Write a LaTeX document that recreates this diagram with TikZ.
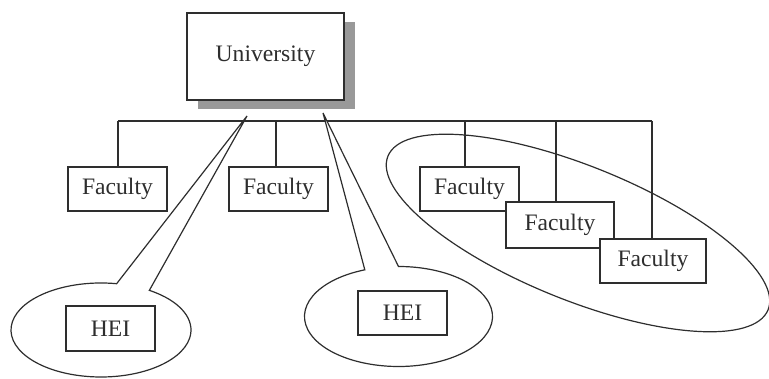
\documentclass[tikz,border=0pt]{standalone}
\usepackage{fontspec}
\setmainfont{Liberation Serif}
\usetikzlibrary{calc}
\begin{document}
\begin{tikzpicture}[x=1pt,y=1pt,
  ln/.style={draw=black!82,line width=1.2pt},
  boxnode/.style={ln,fill=white,inner sep=0pt,text=black!82,
    font=\fontsize{23.6}{28}\selectfont},
  shadowbox/.style={fill=black!40,draw=none}]
\useasboundingbox (0,0) rectangle (769,379);

% big tilted ellipse around the grouped faculties
\draw[ln,rotate around={-22:(578,146)}] (578,146) ellipse [x radius=205,y radius=67];

% University with shadow
\fill[shadowbox] (198,269.5) rectangle (355,356.5);
\node[boxnode,minimum width=157pt,minimum height=87pt] (uni) at (265.5,322.5) {University};

% bus line and drops
\coordinate (d1) at (118,258);
\coordinate (d2) at (276,258);
\coordinate (d3) at (465,258);
\coordinate (d4) at (556,258);
\coordinate (d5) at (652,258);

\node[boxnode,minimum width=99pt,minimum height=44pt] (f1) at (117.5,190) {Faculty};
\node[boxnode,minimum width=99pt,minimum height=44pt] (f2) at (278.5,190) {Faculty};
\node[boxnode,minimum width=99pt,minimum height=44pt] (f3) at (469.5,190) {Faculty};
\node[boxnode,minimum width=108pt,minimum height=46pt] (f4) at (560,154) {Faculty};
\node[boxnode,minimum width=106pt,minimum height=44pt] (f5) at (653,118) {Faculty};

\draw[ln] (d1) -- (d5);
\draw[ln] (d1) -- (d1 |- f1.north);
\draw[ln] (d2) -- (d2 |- f2.north);
\draw[ln] (d3) -- (d3 |- f3.north);
\draw[ln] (d4) -- (d4 |- f4.north);
\draw[ln] (d5) -- (d5 |- f5.north);

% HEI callout bubbles
\coordinate (tip1) at (247,263);
\coordinate (tip2) at (323,266);
\coordinate (c1) at (101,49);
\coordinate (c2) at (398.5,62.5);
\draw[ln,fill=white] ($(c1)+(57.5:90 and 47)$) -- (tip1) -- ($(c1)+(80:90 and 47)$)
  arc[start angle=80,end angle=417.5,x radius=90,y radius=47] -- cycle;
\draw[ln,fill=white] ($(c2)+(90:94 and 50)$) -- (tip2) -- ($(c2)+(111:94 and 50)$)
  arc[start angle=111,end angle=450,x radius=94,y radius=50] -- cycle;

\node[boxnode,minimum width=89pt,minimum height=45pt] (h1) at (110.5,50.5) {HEI};
\node[boxnode,minimum width=89pt,minimum height=44pt] (h2) at (402.5,66) {HEI};
\end{tikzpicture}
\end{document}
